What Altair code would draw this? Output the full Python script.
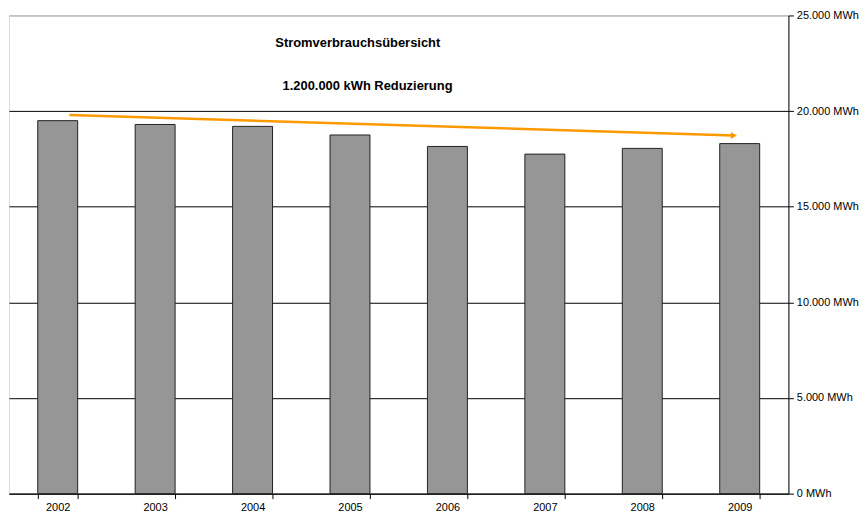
import altair as alt
import pandas as pd

years = ["2002", "2003", "2004", "2005", "2006", "2007", "2008", "2009"]
consumption = [19500, 19300, 19200, 18750, 18150, 17750, 18050, 18300]

# trend arrow (x in category index units, y in MWh)
arrow_x = [0.12, 6.94]
arrow_y = [19800, 18720]

# annotation texts
ann_text = ["Stromverbrauchsübersicht", "1.200.000 kWh Reduzierung"]
ann_x = [3.08, 3.18]
ann_y = [23550, 21300]

y_ticks = [0, 5000, 10000, 15000, 20000, 25000]

FONT = "Liberation Sans"

bars_df = pd.DataFrame({"year": years, "value": consumption})
arrow_df = pd.DataFrame({"x": arrow_x, "y": arrow_y})
head_df = arrow_df.iloc[[-1]]
ann_df = pd.DataFrame({"text": ann_text, "x": ann_x, "y": ann_y})

yscale = alt.Scale(domain=[0, 25000], nice=False)
yaxis = alt.Axis(
    orient="right", values=y_ticks, title=None,
    labelExpr="replace(format(datum.value, ',d'), ',', '.') + ' MWh'",
    labelFontSize=11, labelColor="black", labelFont=FONT,
    domainColor="black", tickColor="black", tickSize=5, labelPadding=3,
    grid=True,
    gridColor={"condition": {"test": "datum.value == 25000", "value": "#a0a0a0"}, "value": "black"},
    gridOpacity=1, gridWidth=1,
)

bars = alt.Chart(bars_df).mark_bar(
    color="#969696", stroke="#222222", strokeWidth=1
).encode(
    x=alt.X("year:O", title=None,
            scale=alt.Scale(paddingInner=0.59, paddingOuter=0.295),
            axis=alt.Axis(labelAngle=0, labelFontSize=11, labelFont=FONT, labelColor="black",
                          domainColor="black", tickColor="black", tickSize=5,
                          tickBand="extent", labelPadding=3, grid=False)),
    y=alt.Y("value:Q", scale=yscale, axis=yaxis),
)

xq = alt.Scale(domain=[-0.5, 7.5], nice=False, zero=False)

arrow = alt.Chart(arrow_df).mark_line(color="#FF9900", strokeWidth=2.5).encode(
    x=alt.X("x:Q", scale=xq, axis=None),
    y=alt.Y("y:Q", scale=yscale),
)

head = alt.Chart(head_df).mark_point(
    shape="triangle-right", filled=True, color="#FF9900", size=50, opacity=1
).encode(
    x=alt.X("x:Q", scale=xq, axis=None),
    y=alt.Y("y:Q", scale=yscale),
)

ann = alt.Chart(ann_df).mark_text(
    font=FONT, fontSize=13, fontWeight="bold", color="black", align="center", baseline="middle"
).encode(
    x=alt.X("x:Q", scale=xq, axis=None),
    y=alt.Y("y:Q", scale=yscale),
    text="text:N",
)

chart = alt.layer(bars, arrow, head, ann).resolve_scale(x="independent").properties(
    width=784, height=481,
    padding={"left": 1, "top": 0, "right": 0, "bottom": 0},
).configure_view(stroke="#a0a0a0", strokeWidth=1).configure(background="white")

chart.save("out.html", embed_options={"renderer": "svg", "actions": False})
